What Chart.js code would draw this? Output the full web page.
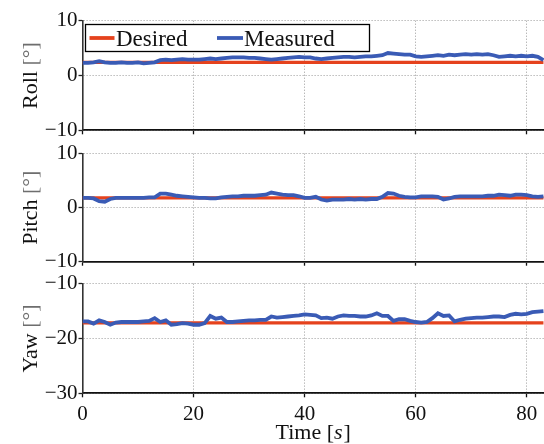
<!DOCTYPE html>
<html><head><meta charset="utf-8">
<script src="https://cdn.jsdelivr.net/npm/chart.js@4.4.1/dist/chart.umd.min.js"></script>
<style>
html,body{margin:0;padding:0;background:#fff;}
#wrap{position:relative;width:544px;height:444px;overflow:hidden;background:#fff;}
canvas{position:absolute;left:0;}
</style></head><body>
<div id="wrap">
<canvas id="c1" width="544" height="150" style="top:0px"></canvas>
<canvas id="c2" width="544" height="140" style="top:140px"></canvas>
<canvas id="c3" width="544" height="174" style="top:270px"></canvas>
</div>
<script>
// ---- data ----
const timeS = [0,1,2,3,4,5,6,7,8,9,10,11,12,13,14,15,16,17,18,19,20,21,22,23,24,25,26,27,28,29,30,31,32,33,34,35,36,37,38,39,40,41,42,43,44,45,46,47,48,49,50,51,52,53,54,55,56,57,58,59,60,61,62,63,64,65,66,67,68,69,70,71,72,73,74,75,76,77,78,79,80,81,82,83];
const rollMeasured = [2.3,2.3,2.4,2.6,2.4,2.3,2.3,2.4,2.3,2.3,2.4,2.2,2.3,2.4,2.8,2.9,2.8,2.9,3.0,2.9,2.9,2.9,3.0,3.1,3.0,3.1,3.2,3.3,3.3,3.3,3.2,3.2,3.1,3.0,2.9,3.0,3.1,3.2,3.3,3.4,3.3,3.3,3.1,3.0,3.1,3.2,3.3,3.4,3.4,3.3,3.4,3.5,3.5,3.6,3.7,4.1,4.0,3.9,3.8,3.8,3.5,3.4,3.5,3.6,3.7,3.6,3.8,3.7,3.8,3.9,3.8,3.9,3.8,3.9,3.7,3.4,3.5,3.6,3.5,3.6,3.5,3.6,3.4,2.8];
const pitchMeasured = [1.8,1.8,1.7,1.2,1.1,1.6,1.8,1.8,1.8,1.8,1.8,1.8,1.9,1.9,2.6,2.6,2.4,2.2,2.1,2.0,1.9,1.8,1.8,1.7,1.7,1.9,2.0,2.1,2.1,2.2,2.2,2.2,2.3,2.4,2.8,2.6,2.4,2.3,2.3,2.1,1.8,1.8,2.0,1.5,1.3,1.5,1.5,1.5,1.6,1.5,1.6,1.5,1.6,1.6,2.0,2.7,2.6,2.2,2.0,1.9,1.9,2.1,2.1,2.1,2.0,1.5,1.7,2.0,2.1,2.1,2.1,2.1,2.1,2.2,2.2,2.4,2.3,2.2,2.4,2.4,2.3,2.1,2.0,2.1];
const yawMeasured = [-16.9,-16.9,-17.3,-16.7,-17.0,-17.5,-17.1,-17.0,-17.0,-17.0,-17.0,-16.9,-16.8,-16.3,-17.0,-16.7,-17.5,-17.4,-17.2,-17.3,-17.5,-17.5,-17.2,-15.9,-16.4,-16.2,-17.0,-17.0,-16.9,-16.8,-16.7,-16.7,-16.6,-16.6,-16.0,-16.2,-16.1,-16.0,-15.9,-15.8,-15.6,-15.7,-15.8,-16.3,-16.2,-16.4,-16.0,-15.8,-15.9,-15.9,-16.0,-16.0,-15.8,-15.4,-15.9,-15.9,-16.8,-16.5,-16.5,-16.8,-17.0,-17.1,-17.0,-16.3,-15.4,-15.9,-15.8,-16.9,-16.6,-16.4,-16.3,-16.2,-16.2,-16.1,-16.0,-16.0,-16.1,-15.7,-15.5,-15.6,-15.5,-15.2,-15.1,-15.0];
const desiredTime = [0, 83];
const rollDesired = [2.4, 2.4];
const pitchDesired = [1.8, 1.8];
const yawDesired = [-17.15, -17.15];
const xTicks = [0, 20, 40, 60, 80];
const rollTicks = [-10, 0, 10];
const pitchTicks = [-10, 0, 10];
const yawTicks = [-30, -20, -10];
const seriesLabels = ['Desired', 'Measured'];
const axisNames = ['Roll', 'Pitch', 'Yaw'];
const axisUnit = '[°]';
const xName = 'Time';
const xUnit = 's';

// ---- style ----
const RED = '#e5421d', BLUE = '#3a5bb5';
const SERIF = "'Liberation Serif', 'Times New Roman', serif";
const GRID = '#9a9a9a';
const X_MAX = 83.1;
const LEFT = 82.5;

function pts(t, v) { return t.map((x, i) => ({x: x, y: v[i]})); }
function fmt(v) { return v < 0 ? '\u2212' + Math.abs(v) : String(v); }

// legend drawn as a framed box inside the first panel
const legendPlugin = {
  id: 'boxLegend',
  afterDraw(chart, args, o) {
    if (!o.show) return;
    const ctx = chart.ctx;
    ctx.save();
    const bx = 85.5, by = 24.5, bw = 284, bh = 27;
    ctx.fillStyle = '#fff';
    ctx.fillRect(bx, by, bw, bh);
    ctx.strokeStyle = '#000'; ctx.lineWidth = 1.3;
    ctx.strokeRect(bx, by, bw, bh);
    ctx.font = '23px ' + SERIF;
    ctx.textBaseline = 'alphabetic';
    ctx.fillStyle = '#111';
    const items = [
      {c: RED, x0: 89.5, x1: 114.5, tx: 116, label: chart.data.datasets[1].label},
      {c: BLUE, x0: 217, x1: 243, tx: 244, label: chart.data.datasets[0].label}
    ];
    items.forEach(it => {
      ctx.strokeStyle = it.c; ctx.lineWidth = 3.8;
      ctx.beginPath(); ctx.moveTo(it.x0, 38); ctx.lineTo(it.x1, 38); ctx.stroke();
      ctx.fillText(it.label, it.tx, 45.5);
    });
    ctx.restore();
  }
};

// axis titles with mixed styling (grey unit brackets, italic time unit)
const titlePlugin = {
  id: 'axisTitles',
  afterDraw(chart, args, o) {
    const ctx = chart.ctx, area = chart.chartArea;
    ctx.save();
    ctx.font = '22px ' + SERIF;
    ctx.textBaseline = 'alphabetic';
    // y title, rotated
    const a = o.name + ' ', b = o.unit;
    const wa = ctx.measureText(a).width, wb = ctx.measureText(b).width;
    const cy = (area.top + area.bottom) / 2;
    ctx.translate(37, cy);
    ctx.rotate(-Math.PI / 2);
    const sx = -(wa + wb) / 2;
    ctx.fillStyle = '#111'; ctx.fillText(a, sx, 0);
    ctx.fillStyle = '#6e6e6e'; ctx.fillText(b, sx + wa, 0);
    ctx.setTransform(1, 0, 0, 1, 0, 0);
    if (o.x) {
      const p1 = xName + ' [', p3 = ']';
      ctx.font = '22px ' + SERIF;
      const w1 = ctx.measureText(p1).width, w3 = ctx.measureText(p3).width;
      ctx.font = 'italic 22px ' + SERIF;
      const w2 = ctx.measureText(xUnit).width + 1;
      const cx = (area.left + area.right) / 2;
      let x = cx - (w1 + w2 + w3) / 2;
      const y = 168.5;
      ctx.fillStyle = '#111';
      ctx.font = '22px ' + SERIF; ctx.fillText(p1, x, y); x += w1;
      ctx.font = 'italic 22px ' + SERIF; ctx.fillText(xUnit, x, y); x += w2;
      ctx.font = '22px ' + SERIF; ctx.fillText(p3, x, y);
    }
    ctx.restore();
  }
};

function makePanel(id, measured, desired, ticks, name, padTop, xHeight, bottom, showLegend) {
  new Chart(document.getElementById(id), {
    type: 'line',
    data: {
      datasets: [
        {label: seriesLabels[1], data: pts(timeS, measured), borderColor: BLUE, borderWidth: 3.8,
         pointRadius: 0, tension: 0, order: 1},
        {label: seriesLabels[0], data: pts(desiredTime, desired), borderColor: RED, borderWidth: 3.2,
         pointRadius: 0, tension: 0, order: 2}
      ]
    },
    options: {
      responsive: false, animation: false, events: [],
      layout: {padding: {top: padTop, right: 0, left: 0, bottom: 0}},
      plugins: {legend: {display: false}, tooltip: {enabled: false}, boxLegend: {show: showLegend},
                axisTitles: {name: name, unit: axisUnit, x: bottom}},
      scales: {
        x: {
          type: 'linear', min: 0, max: X_MAX,
          afterBuildTicks: s => { s.ticks = xTicks.map(v => ({value: v})); },
          afterFit: s => { s.height = xHeight; },
          border: {display: true, color: '#111', width: 1.8, dash: [1, 2]},
          grid: {color: GRID, lineWidth: 1, tickLength: 4, tickColor: '#111', tickWidth: 1.3, tickBorderDash: []},
          ticks: {display: true, color: bottom ? '#111' : 'rgba(0,0,0,0)', font: {family: SERIF, size: 21}, padding: 5, maxRotation: 0, callback: v => fmt(v)},
          title: {display: false}
        },
        y: {
          type: 'linear', min: ticks[0], max: ticks[ticks.length - 1],
          afterBuildTicks: s => { s.ticks = ticks.map(v => ({value: v})); },
          afterFit: s => { s.width = LEFT; },
          border: {display: true, color: '#333', width: 1.6, dash: [1, 2]},
          grid: {color: GRID, lineWidth: 1, tickLength: 4, tickColor: '#222', tickWidth: 1.3, tickBorderDash: []},
          ticks: {color: '#111', font: {family: SERIF, size: 21}, padding: 1, callback: v => fmt(v)},
          title: {display: false}
        }
      }
    },
    plugins: [legendPlugin, titlePlugin]
  });
}

makePanel('c1', rollMeasured, rollDesired, rollTicks, axisNames[0], 20.7, 19.7, false, true);
makePanel('c2', pitchMeasured, pitchDesired, pitchTicks, axisNames[1], 11.7, 18.3, false, false);
makePanel('c3', yawMeasured, yawDesired, yawTicks, axisNames[2], 13.3, 50.7, true, false);
</script>
</body></html>
